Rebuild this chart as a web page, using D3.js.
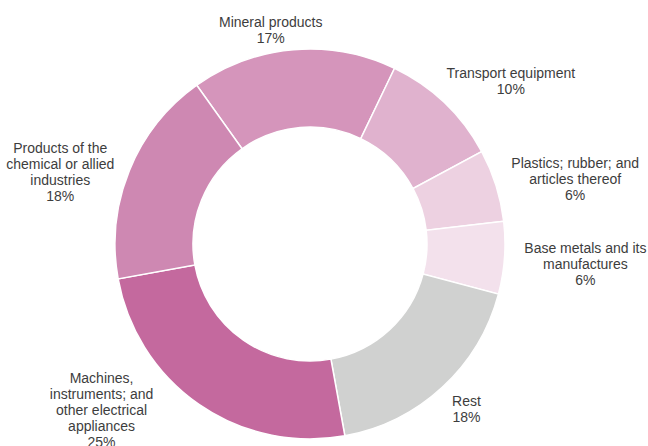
<!DOCTYPE html>
<html>
<head>
<meta charset="utf-8">
<script src="https://cdn.jsdelivr.net/npm/d3@7"></script>
<style>
  body { margin: 0; background: #fff; }
  text { font-family: "Liberation Sans", Arial, sans-serif; font-size: 14px; fill: #3d3d3d; }
</style>
</head>
<body>
<script>
// ____________ data
var categories = [
  "Mineral products",
  "Transport equipment",
  "Plastics; rubber; and articles thereof",
  "Base metals and its manufactures",
  "Rest",
  "Machines, instruments; and other electrical appliances",
  "Products of the chemical or allied industries"
]
var labelLines = [
  ["Mineral products"],
  ["Transport equipment"],
  ["Plastics; rubber; and", "articles thereof"],
  ["Base metals and its", "manufactures"],
  ["Rest"],
  ["Machines,", "instruments; and", "other electrical", "appliances"],
  ["Products of the", "chemical or allied", "industries"]
]
var shares = [17, 10, 6, 6, 18, 25, 18]
var colors = ["#d595bb", "#e0b2ce", "#edd1e1", "#f3e1ec", "#d0d1d0", "#c4699e", "#ce88b2"]

// ____________ layout
var width = 648, height = 446
var cx = 310, cy = 244
var outerR = 195, innerR = 117
var lineH = 16
// hand nudges for the label blocks (the source placed them "best fit")
var labelNudge = [[-17, 12], [12, 2], [5, 7], [6, 5], [5, 2], [-60, -37], [-6, 21]]

var svg = d3.select("body").append("svg")
  .attr("width", width)
  .attr("height", height)

var g = svg.append("g").attr("transform", "translate(" + cx + "," + cy + ")")

var start = -35.5 * Math.PI / 180
var pie = d3.pie().sort(null).value(function (d) { return d })
  .startAngle(start).endAngle(start + 2 * Math.PI)
var arcs = pie(shares)

var arc = d3.arc().innerRadius(innerR).outerRadius(outerR)

g.selectAll("path.slice")
  .data(arcs)
  .enter()
  .append("path")
    .attr("class", "slice")
    .attr("d", arc)
    .style("fill", function (d, i) { return colors[i] })
    .style("stroke", "#fff")
    .style("stroke-width", 1.5)

// ____________ labels
var labels = g.selectAll("g.label")
  .data(arcs)
  .enter()
  .append("g")
    .attr("class", "label")

labels.each(function (d, i) {
  var lab = d3.select(this)
  var lines = labelLines[i].concat([shares[i] + "%"])
  var t = lab.append("text").attr("text-anchor", "middle")
  lines.forEach(function (s, k) {
    t.append("tspan").attr("x", 0).attr("y", k * lineH).text(s)
  })
  var w = 0
  t.selectAll("tspan").each(function () { w = Math.max(w, this.getComputedTextLength()) })
  var h = lines.length * lineH
  var mid = (d.startAngle + d.endAngle) / 2
  var sx = Math.sin(mid), sy = -Math.cos(mid)
  var r = outerR + 14
  var px = r * sx + sx * w / 2 + labelNudge[i][0]
  var py = r * sy + sy * h / 2 + labelNudge[i][1]
  lab.attr("transform", "translate(" + px + "," + (py - h / 2 + 11) + ")")
})
</script>
</body>
</html>
